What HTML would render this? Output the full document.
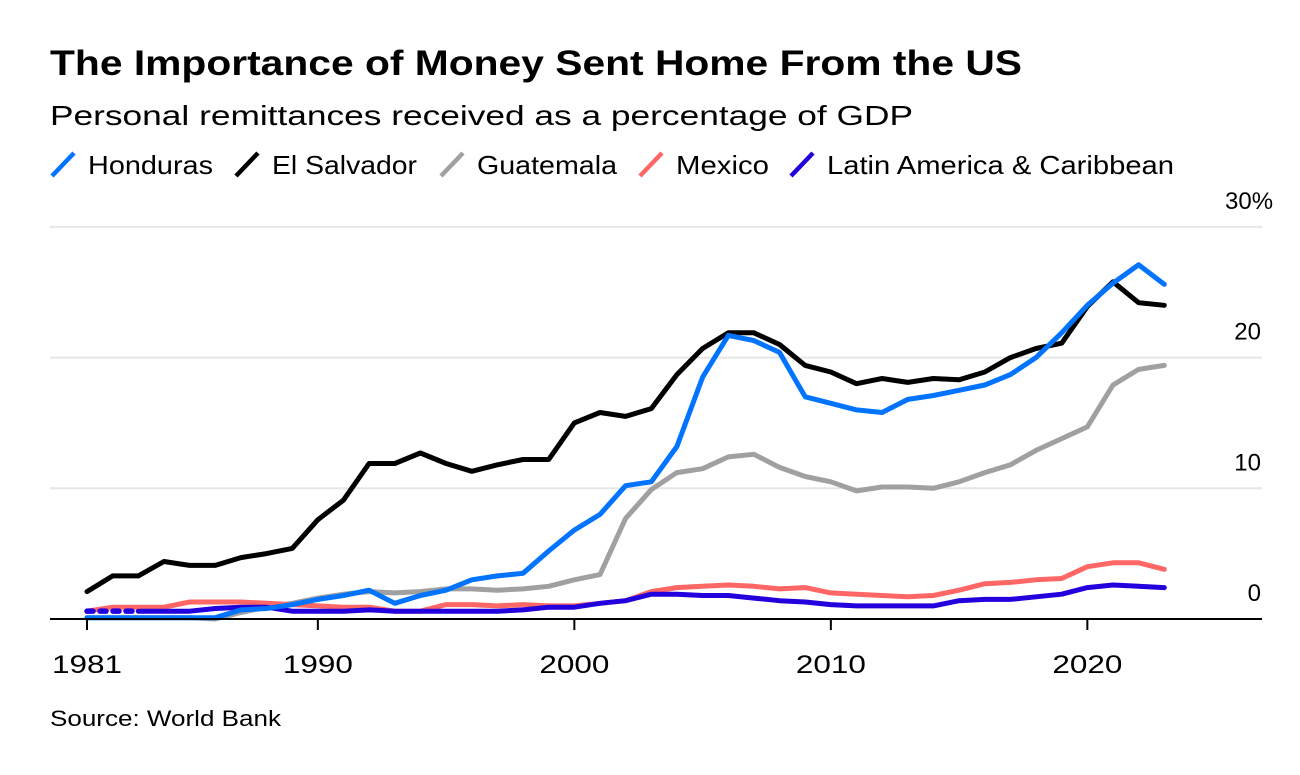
<!DOCTYPE html>
<html><head><meta charset="utf-8">
<style>
body{margin:0;background:#fff;font-family:"Liberation Sans",sans-serif;}
svg text{font-family:"Liberation Sans",sans-serif;}
</style></head>
<body>
<svg width="1300" height="770">
<text x="50" y="75" font-size="35" font-weight="bold" fill="#000" textLength="972" lengthAdjust="spacingAndGlyphs">The Importance of Money Sent Home From the US</text>
<text x="50" y="125" font-size="28" fill="#000" textLength="863" lengthAdjust="spacingAndGlyphs">Personal remittances received as a percentage of GDP</text>
<g id="legend"></g>
<g id="grid"></g>
<g id="series"></g>
<g id="xaxis"></g>
<text x="50" y="726" font-size="22" fill="#000" textLength="231" lengthAdjust="spacingAndGlyphs">Source: World Bank</text>
</svg>
<script>
const years=[];for(let y=1981;y<=2023;y++)years.push(y);
const honduras=[0.1,0.1,0.1,0.1,0.1,0.1,0.7,0.8,1.1,1.5,1.8,2.2,1.2,1.8,2.2,3.0,3.3,3.5,5.2,6.8,8.0,10.2,10.5,13.2,18.5,21.7,21.3,20.4,17.0,16.5,16.0,15.8,16.8,17.1,17.5,17.9,18.7,20.0,21.9,24.0,25.7,27.1,25.6];
const elSalvador=[2.1,3.3,3.3,4.4,4.1,4.1,4.7,5.0,5.4,7.6,9.1,11.9,11.9,12.7,11.9,11.3,11.8,12.2,12.2,15.0,15.8,15.5,16.1,18.7,20.7,21.9,21.9,21.0,19.4,18.9,18.0,18.4,18.1,18.4,18.3,18.9,20.0,20.7,21.1,23.9,25.8,24.2,24.0];
const guatemala=[0.1,0.1,0.1,0.1,0.1,0.0,0.5,0.9,1.2,1.6,1.9,2.1,2.0,2.1,2.3,2.3,2.2,2.3,2.5,3.0,3.4,7.7,9.9,11.2,11.5,12.4,12.6,11.6,10.9,10.5,9.8,10.1,10.1,10.0,10.5,11.2,11.8,12.9,13.8,14.7,17.9,19.1,19.4];
const mexico=[0.6,0.9,0.9,0.9,1.3,1.3,1.3,1.2,1.1,1.0,0.9,0.9,0.6,0.6,1.1,1.1,1.0,1.1,1.0,1.0,1.2,1.4,2.1,2.4,2.5,2.6,2.5,2.3,2.4,2.0,1.9,1.8,1.7,1.8,2.2,2.7,2.8,3.0,3.1,4.0,4.3,4.3,3.8];
const lac=[0.6,0.6,0.6,0.6,0.6,0.8,0.9,0.9,0.6,0.6,0.6,0.7,0.6,0.6,0.6,0.6,0.6,0.7,0.9,0.9,1.2,1.4,1.9,1.9,1.8,1.8,1.6,1.4,1.3,1.1,1.0,1.0,1.0,1.0,1.4,1.5,1.5,1.7,1.9,2.4,2.6,2.5,2.4];
const yTicks=[0,10,20,30];
const yTickLabels=["0","10","20","30%"];
const xTicks=[1981,1990,2000,2010,2020];
const seriesNames=["Honduras","El Salvador","Guatemala","Mexico","Latin America & Caribbean"];
const seriesColors=["#0073ff","#000000","#a0a0a0","#ff6666","#2200dd"];

const NS="http://www.w3.org/2000/svg";
const X=yr=>87+(yr-1981)*25.65;
const Y=v=>619-v*13.07;
function mk(tag,attrs,parent){const e=document.createElementNS(NS,tag);for(const k in attrs)e.setAttribute(k,attrs[k]);parent.appendChild(e);return e;}

const grid=document.getElementById('grid');
yTicks.forEach((t,i)=>{
  if(t>0){const l=mk('line',{x1:50,x2:1262,y1:Y(t),y2:Y(t),stroke:'#e6e6e6','stroke-width':2},grid);
  
  }
  const lbl=yTickLabels[i];
  const attrs=lbl.endsWith('%')?{x:1225,y:Y(t)-18,'font-size':24,fill:'#000'}:{x:1261,y:Y(t)-18,'font-size':24,'text-anchor':'end',fill:'#000'};
  const tx=mk('text',attrs,grid);
  tx.textContent=lbl;
  
  
});

const sg=document.getElementById('series');
const data=[guatemala,mexico,lac,elSalvador,honduras];
const order=[2,3,4,1,0];
data.forEach((arr,k)=>{
  const idx=order[k];
  let startI=0;
  if(idx===4){
    startI=2;
    const d=mk('path',{d:'M'+X(years[0])+','+Y(arr[0])+'L'+X(years[2])+','+Y(arr[2]),fill:'none',stroke:seriesColors[idx],'stroke-width':5.5,'stroke-dasharray':'6 7','stroke-linecap':'round'},sg);
    
    
  }
  let p='';
  for(let i=startI;i<arr.length;i++)p+=(i===startI?'M':'L')+X(years[i]).toFixed(1)+','+Y(arr[i]).toFixed(1);
  const path=mk('path',{d:p,fill:'none',stroke:seriesColors[idx],'stroke-width':5,'stroke-linejoin':'round','stroke-linecap':'round'},sg);
  
  
});

const xa=document.getElementById('xaxis');
const base=mk('line',{x1:50,x2:1262,y1:619,y2:619,stroke:'#000','stroke-width':2},xa);


xTicks.forEach(t=>{
  const tk=mk('line',{x1:X(t),x2:X(t),y1:619,y2:630,stroke:'#000','stroke-width':2},xa);
  
  
  const tx=mk('text',{x:X(t)-35,y:673,'font-size':25,fill:'#000',textLength:70,lengthAdjust:'spacingAndGlyphs'},xa);
  tx.textContent=t;
  
  
});

const lg=document.getElementById('legend');
const legX=[52,236,441,640,791];
const legW=[125,145,140,93,347];
seriesNames.forEach((n,i)=>{
  const g=mk('g',{},lg);
  
  
  mk('line',{x1:legX[i],y1:176,x2:legX[i]+22,y2:153,stroke:seriesColors[i],'stroke-width':4.5},g);
  const t=mk('text',{x:legX[i]+36,y:174,'font-size':26,fill:'#000',textLength:legW[i],lengthAdjust:'spacingAndGlyphs'},g);
  t.textContent=n;
});
</script>
</body></html>
